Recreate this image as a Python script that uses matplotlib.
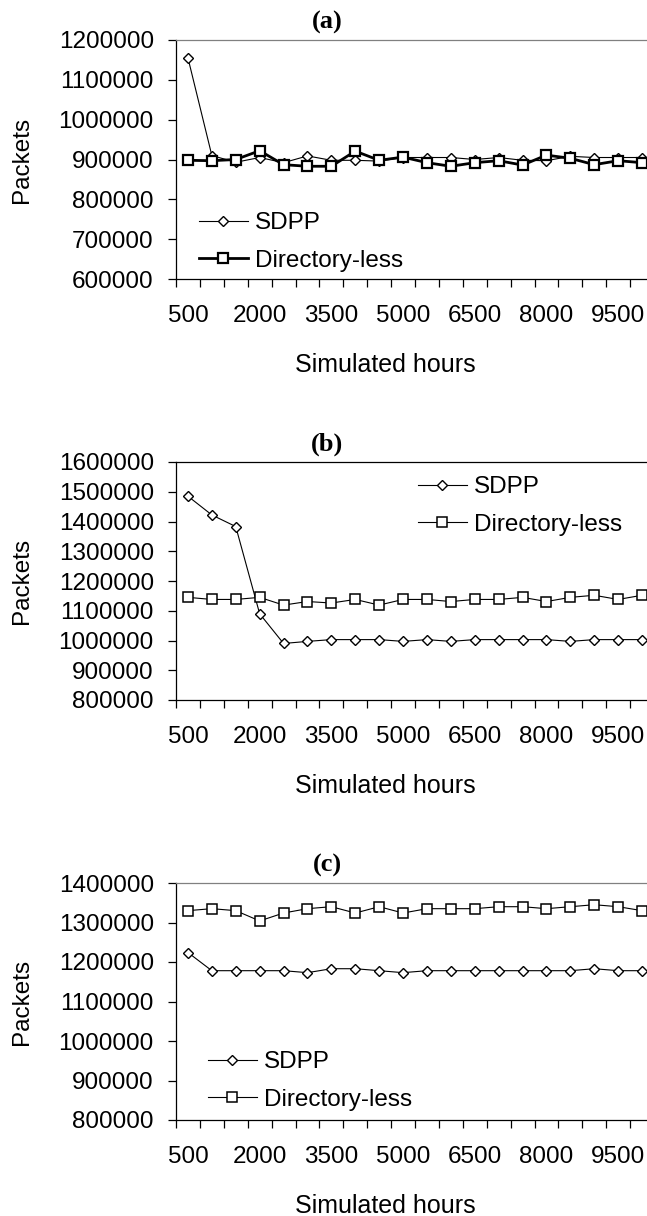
import matplotlib
matplotlib.use("Agg")
import matplotlib.pyplot as plt
import numpy as np

plt.rcParams['font.family'] = ['Liberation Sans', 'DejaVu Sans']

# simulated hours (categories)
hours = [500, 1000, 1500, 2000, 2500, 3000, 3500, 4000, 4500, 5000,
         5500, 6000, 6500, 7000, 7500, 8000, 8500, 9000, 9500, 10000]

# panel (a)
sdpp_a = [1155000, 910000, 893000, 905000, 892000, 909000, 898000, 898000,
          896000, 905000, 905000, 905000, 900000, 905000, 898000, 897000,
          908000, 905000, 905000, 905000]
dirless_a = [898000, 897000, 900000, 922000, 887000, 883000, 883000, 921000,
             898000, 906000, 892000, 883000, 892000, 897000, 886000, 911000,
             903000, 887000, 897000, 892000]

# panel (b)
sdpp_b = [1485000, 1422000, 1383000, 1090000, 990000, 997000, 1003000,
          1003000, 1003000, 997000, 1003000, 997000, 1003000, 1003000,
          1003000, 1003000, 997000, 1003000, 1003000, 1003000]
dirless_b = [1145000, 1138000, 1138000, 1145000, 1119000, 1131000, 1126000,
             1138000, 1119000, 1138000, 1138000, 1131000, 1138000, 1138000,
             1145000, 1131000, 1145000, 1152000, 1138000, 1152000]

# panel (c)
sdpp_c = [1224000, 1178000, 1178000, 1178000, 1178000, 1173000, 1183000,
          1183000, 1178000, 1173000, 1178000, 1178000, 1178000, 1178000,
          1178000, 1178000, 1178000, 1183000, 1178000, 1178000]
dirless_c = [1330000, 1335000, 1330000, 1304000, 1324000, 1335000, 1340000,
             1324000, 1340000, 1324000, 1335000, 1335000, 1335000, 1340000,
             1340000, 1335000, 1340000, 1345000, 1340000, 1330000]

W, H = 647, 1216
FS = 17.5


def px_axes(top, bottom, left=176, right=654):
    """Axes rectangle from pixel coordinates."""
    return [left / W, 1 - bottom / H, (right - left) / W, (bottom - top) / H]


def draw_panel(fig, rect, sdpp, dirless, ylim, title, leg_xy, thick, topcol):
    ax = fig.add_axes(px_axes(*rect))
    x = np.arange(len(hours))
    lw_d = 2.0 if thick else 0.8
    mew_d = 1.6 if thick else 1.1
    ax.plot(x, sdpp, color='black', lw=0.8, marker='D', ms=5.5,
            mfc='white', mec='black', mew=1.0, label='SDPP', clip_on=False)
    ax.plot(x, dirless, color='black', lw=lw_d, marker='s', ms=7,
            mfc='white', mec='black', mew=mew_d, label='Directory-less',
            clip_on=False)

    ax.set_xlim(-0.5, len(hours) - 0.5)
    ax.set_ylim(*ylim)
    ax.set_yticks(np.arange(ylim[0], ylim[1] + 1, 100000))
    ax.set_yticklabels(['%d' % v for v in ax.get_yticks()])

    ax.set_xticks(np.arange(-0.5, len(hours), 1))
    ax.set_xticklabels([])
    idx = list(range(0, len(hours), 3))
    ax.set_xticks(idx, minor=True)
    ax.set_xticklabels([str(hours[i]) for i in idx], minor=True)
    ax.tick_params(axis='x', which='major', direction='out', length=6,
                   width=0.9, labelbottom=False)
    ax.tick_params(axis='x', which='minor', length=0, pad=19, labelsize=FS)
    ax.tick_params(axis='y', direction='out', length=6, width=0.9,
                   pad=10, labelsize=FS)

    for s in ['left', 'bottom']:
        ax.spines[s].set_linewidth(0.9)
    ax.spines['top'].set_color(topcol)
    ax.spines['top'].set_linewidth(0.9)
    ax.spines['right'].set_visible(False)

    h = rect[1] - rect[0]
    ax.set_ylabel('Packets', fontsize=FS)
    ax.yaxis.set_label_coords((33 - 176) / 478, 0.5)
    ax.set_xlabel('Simulated hours', fontsize=18)
    ax.xaxis.set_label_coords((385 - 176) / 478, -93 / h)
    ax.xaxis.label.set_va('baseline')
    ax.set_title(title, fontsize=19, fontweight='bold',
                 family=['Liberation Serif', 'DejaVu Serif'],
                 x=(327 - 176) / 478, y=1 + 18 / h, va='center', pad=0)

    ax.legend(loc='center left',
              bbox_to_anchor=(leg_xy[0] / W, 1 - leg_xy[1] / H),
              bbox_transform=fig.transFigure, frameon=False, borderpad=0,
              borderaxespad=0, handlelength=2.0, handletextpad=0.3,
              labelspacing=0.65, fontsize=FS)
    return ax


fig = plt.figure(figsize=(W / 100, H / 100), dpi=100)
draw_panel(fig, (40, 279), sdpp_a, dirless_a, (600000, 1200000), '(a)',
           (199, 242), True, '#808080')
draw_panel(fig, (462, 700), sdpp_b, dirless_b, (800000, 1600000), '(b)',
           (418, 506), False, 'black')
draw_panel(fig, (883, 1120), sdpp_c, dirless_c, (800000, 1400000), '(c)',
           (208, 1081), False, '#808080')

fig.savefig('out.png', dpi=100)
